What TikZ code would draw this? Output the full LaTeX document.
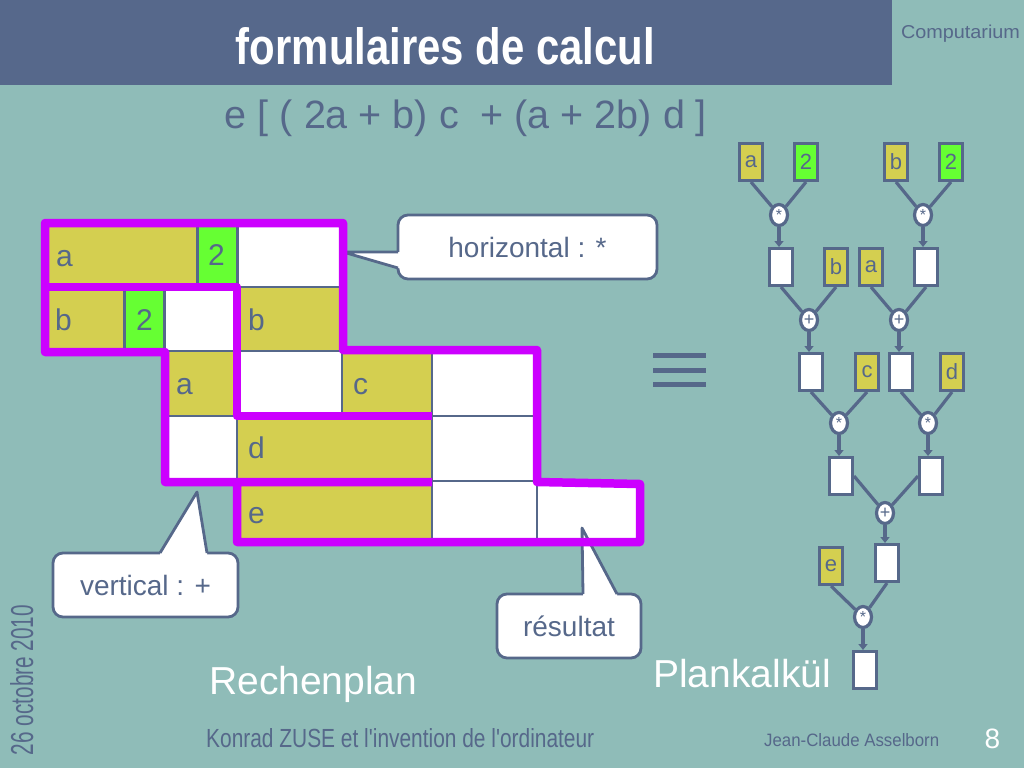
\documentclass[tikz,border=0pt]{standalone}
\usepackage{fontspec}
\setmainfont{Liberation Sans}[Ligatures=TeXOff]
\usetikzlibrary{arrows.meta,shapes.geometric}
\definecolor{bg}{RGB}{143,188,184}
\definecolor{bar}{RGB}{86,104,139}
\definecolor{ink}{RGB}{86,104,138}
\definecolor{yel}{RGB}{212,207,80}
\definecolor{grn}{RGB}{102,255,51}
\definecolor{mag}{RGB}{204,0,255}
\newcommand\fsz[1]{\fontsize{#1}{#1}\selectfont}
\newcommand\cell[6]{\node[cellbox, fill=#6, minimum width={(#3-#2)*1pt}, minimum height={(#5-#4)*1pt}] (#1) at ({(#2+#3)/2},{(#4+#5)/2}) {};}
\begin{document}
\begin{tikzpicture}[x=1pt,y=-1pt,
  cellbox/.style={draw=ink, line width=2.8pt, inner sep=0pt},
  lbl/.style={inner sep=0pt, text=ink, font=\fsz{30}},
  callbox/.style={draw=ink, fill=white, line width=2.8pt, rounded corners=10pt, inner sep=0pt, font=\fsz{28}, text=ink},
  pointer/.style={draw=ink, line width=2.8pt, line join=round},
  magline/.style={draw=mag, line width=8.5pt, line join=round},
  tbox/.style={draw=ink, line width=3.2pt, minimum width=22.8pt, minimum height=36.8pt, inner sep=0pt, font=\fsz{22}, text=ink},
  op/.style={ellipse, draw=ink, fill=white, line width=3.2pt, minimum width=17pt, minimum height=21pt, inner sep=0pt, text=ink},
  edge/.style={draw=ink, line width=3.2pt},
  arr/.style={edge, -{Triangle[length=6pt,width=9pt]}}
]
\useasboundingbox (0,0) rectangle (1024,768);
\fill[bg] (0,0) rectangle (1024,768);
\fill[bar] (0,0) rectangle (892,85);

% texts
\node[anchor=base, inner sep=0pt, text=white] (title) at (445.5,64) {\resizebox{419pt}{37pt}{\bfseries formulaires de calcul}};
\node[anchor=base, inner sep=0pt, text=ink] (comp) at (960.5,38) {\resizebox{119pt}{13.5pt}{Computarium}};
\node[anchor=base, inner sep=0pt, text=ink] (formula) at (466,128) {\resizebox{482pt}{!}{\fsz{39}e [ ( 2a + b) c\ \ + (a + 2b) d ]}};
\node[anchor=base west, inner sep=0pt, text=white, font=\fsz{39}] (rp) at (209,694) {Rechenplan};
\node[anchor=base west, inner sep=0pt, text=white, font=\fsz{39}] (pk) at (653,687) {Plankalkül};
\node[anchor=base west, inner sep=0pt, text=ink] (konrad) at (206,747) {\resizebox{388pt}{19pt}{Konrad ZUSE et l'invention de l'ordinateur}};
\node[anchor=base west, inner sep=0pt, text=ink] (author) at (764,746) {\resizebox{175pt}{13pt}{Jean-Claude Asselborn}};
\node[anchor=base, inner sep=0pt, text=white, font=\fsz{28}] (pnum) at (992.5,748) {8};
\node[rotate=90, anchor=base, inner sep=0pt, text=ink] (date) at (33,680) {\resizebox{150pt}{23pt}{26 octobre 2010}};

% Rechenplan cells
\cell{c11}{45}{197.5}{223}{287}{yel}
\cell{c12}{197.5}{237.5}{223}{287}{grn}
\cell{c13}{237.5}{343}{223}{287}{white}
\cell{c21}{45}{124.5}{287}{351}{yel}
\cell{c22}{124.5}{164.5}{287}{351}{grn}
\cell{c23}{164.5}{237}{287}{351}{white}
\cell{c24}{237}{343}{287}{351}{yel}
\cell{c31}{165}{237}{351}{416}{yel}
\cell{c32}{237}{342}{351}{416}{white}
\cell{c33}{342}{432}{351}{416}{yel}
\cell{c34}{432}{537}{351}{416}{white}
\cell{c41}{165}{237}{416}{481}{white}
\cell{c42}{237}{432}{416}{481}{yel}
\cell{c43}{432}{537}{416}{481}{white}
\cell{c51}{237}{432}{481}{542}{yel}
\cell{c52}{432}{537}{481}{542}{white}
\cell{c53}{537}{640}{481}{542}{white}

\node[lbl, anchor=base west] (l11) at (56,266) {a};
\node[lbl, anchor=base] (l12) at (216.5,265) {2};
\node[lbl, anchor=base west] (l21) at (55,330) {b};
\node[lbl, anchor=base] (l22) at (144.5,330) {2};
\node[lbl, anchor=base west] (l24) at (248,330) {b};
\node[lbl, anchor=base west] (l31) at (176,394) {a};
\node[lbl, anchor=base west] (l33) at (353,394) {c};
\node[lbl, anchor=base west] (l42) at (248,458) {d};
\node[lbl, anchor=base west] (l51) at (248,523) {e};

% callouts
\node[callbox, minimum width=259pt, minimum height=64pt] (hcall) at (527.5,247) {horizontal : *};
\coordinate (htip) at (343,252);
\fill[white] (htip) -- (398,252) -- (403,252) -- (403,268) -- (398,268) -- cycle;
\draw[pointer] (398,252) -- (htip) -- (398,268);

\node[callbox, minimum width=185pt, minimum height=64pt] (vcall) at (145.5,585) {vertical : +};
\coordinate (vtip) at (197,492);
\fill[white] (vtip) -- (160,553) -- (160,558) -- (207,558) -- (207,553) -- cycle;
\draw[pointer] (160,553) -- (vtip) -- (207,553);

\node[callbox, minimum width=144pt, minimum height=64pt] (rcall) at (569,626) {résultat};
\coordinate (rtip) at (582,528);
\fill[white] (rtip) -- (583,594) -- (583,599) -- (617,599) -- (617,594) -- cycle;
\draw[pointer] (583,594) -- (rtip) -- (617,594);

% magenta groups
\draw[magline] (237,482) -- (237,542) -- (640,542) -- (640,484) -- (537,482) -- (537,350) -- (343,350) -- (343,223) -- (45,223) -- (45,352) -- (165,352) -- (165,482) -- (432,482);
\draw[magline] (45,287) -- (237,287) -- (237,416) -- (432,416);

% equivalence sign
\draw[ink, line width=5pt] (653,355) -- (706,355);
\draw[ink, line width=5pt] (653,370) -- (706,370);
\draw[ink, line width=5pt] (653,384) -- (706,384);

% Plankalkuel tree
\node[tbox, fill=yel] (ta) at (751,162) {a};
\node[tbox, fill=grn] (t2a) at (806,162) {2};
\node[tbox, fill=yel] (tb) at (896,162) {b};
\node[tbox, fill=grn] (t2b) at (951,162) {2};
\node[op, font=\fsz{16}] (m1) at (779,215) {*};
\node[op, font=\fsz{16}] (m2) at (923,215) {*};
\node[tbox, fill=white] (r1) at (781,267) {};
\node[tbox, fill=yel] (tb2) at (836,267) {b};
\node[tbox, fill=yel] (ta2) at (871,267) {a};
\node[tbox, fill=white] (r2) at (926,267) {};
\node[op, font=\fsz{18}] (p1) at (809,320) {+};
\node[op, font=\fsz{18}] (p2) at (899,320) {+};
\node[tbox, fill=white] (r3) at (811,372) {};
\node[tbox, fill=yel] (tc) at (867,372) {c};
\node[tbox, fill=white] (r4) at (901,372) {};
\node[tbox, fill=yel] (td) at (952,372) {d};
\node[op, font=\fsz{16}] (m3) at (839,423) {*};
\node[op, font=\fsz{16}] (m4) at (928,423) {*};
\node[tbox, fill=white] (r5) at (841,476) {};
\node[tbox, fill=white] (r6) at (931,476) {};
\node[op, font=\fsz{18}] (p3) at (885,513) {+};
\node[tbox, fill=yel] (te) at (831,566) {e};
\node[tbox, fill=white] (r7) at (887,563) {};
\node[op, font=\fsz{16}] (m5) at (863,617) {*};
\node[tbox, fill=white] (r8) at (865,670) {};

\draw[edge] (ta.south) -- (m1);
\draw[edge] (t2a.south) -- (m1);
\draw[edge] (tb.south) -- (m2);
\draw[edge] (t2b.south) -- (m2);
\draw[arr] (m1) -- (r1.north -| m1);
\draw[arr] (m2) -- (r2.north -| m2);
\draw[edge] (r1.south) -- (p1);
\draw[edge] (tb2.south) -- (p1);
\draw[edge] (ta2.south) -- (p2);
\draw[edge] (r2.south) -- (p2);
\draw[arr] (p1) -- (r3.north -| p1);
\draw[arr] (p2) -- (r4.north -| p2);
\draw[edge] (r3.south) -- (m3);
\draw[edge] (tc.south) -- (m3);
\draw[edge] (r4.south) -- (m4);
\draw[edge] (td.south) -- (m4);
\draw[arr] (m3) -- (r5.north -| m3);
\draw[arr] (m4) -- (r6.north -| m4);
\draw[edge] (r5.east) -- (p3);
\draw[edge] (r6.west) -- (p3);
\draw[arr] (p3) -- (r7.north -| p3);
\draw[edge] (te.south) -- (m5);
\draw[edge] (r7.south) -- (m5);
\draw[arr] (m5) -- (r8.north -| m5);
\end{tikzpicture}
\end{document}
